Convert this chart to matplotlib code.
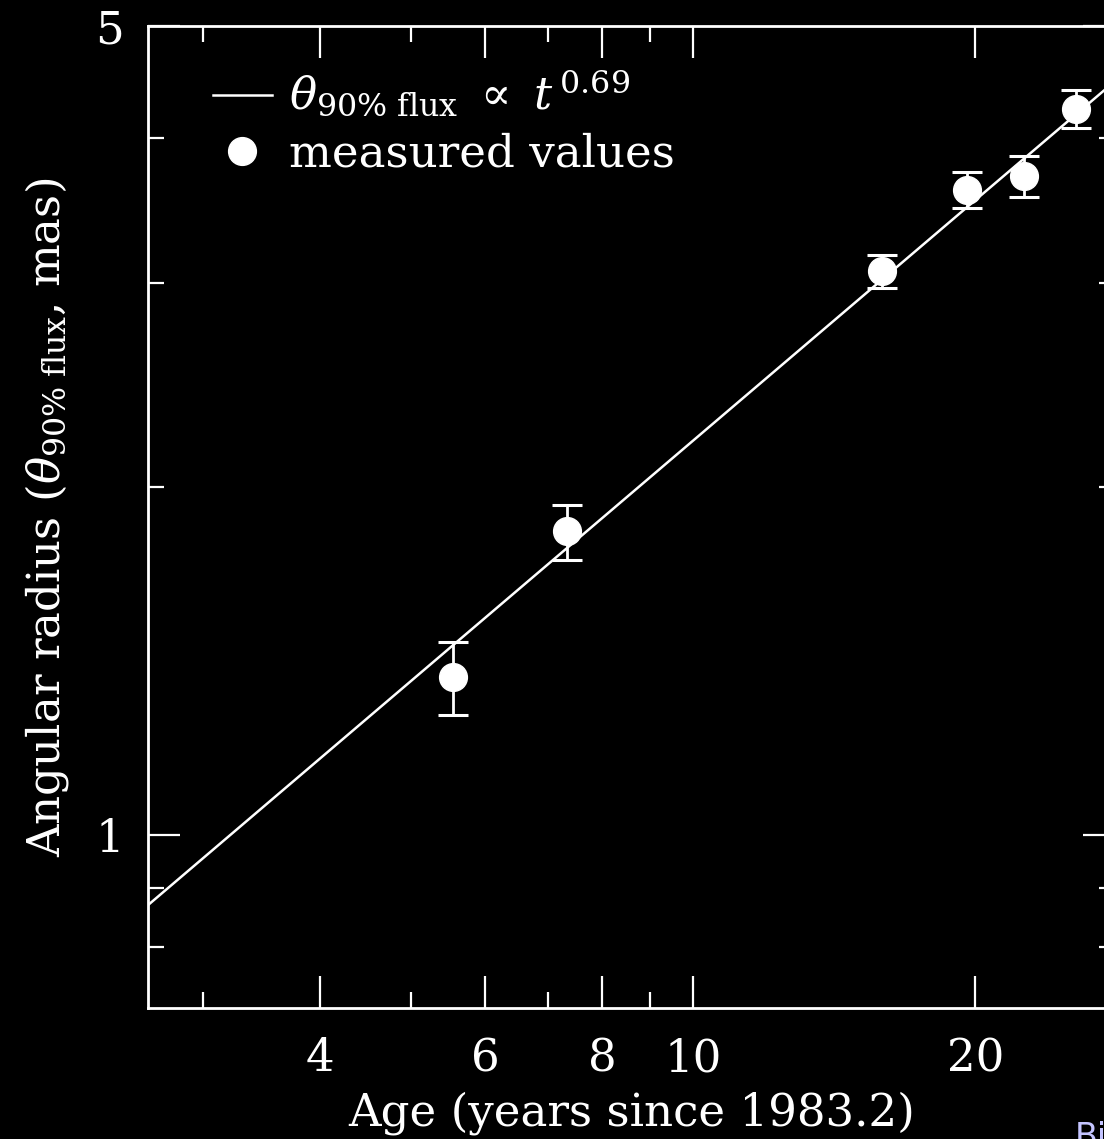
import matplotlib.pyplot as plt
import numpy as np
from matplotlib.lines import Line2D
from matplotlib.ticker import FixedLocator, NullFormatter, FixedFormatter

# VLBI epochs: age in years since 1983.2, angular radius (mas) and 1-sigma errors
age = [5.55, 7.34, 15.92, 19.62, 22.56, 25.63]
radius = [1.37, 1.83, 3.07, 3.61, 3.71, 4.24]
radius_err = [0.10, 0.10, 0.10, 0.13, 0.15, 0.16]

# power-law fit theta = A * t**m
fit_norm = 0.4476
fit_index = 0.69

x_major = [4, 6, 8, 10, 20]
x_minor = [3, 5, 7, 9]
y_major = [1, 5]
y_minor = [0.8, 0.9, 2, 3, 4]

FS = 32.5

plt.rcParams["font.family"] = "DejaVu Serif"
plt.rcParams["mathtext.fontset"] = "dejavuserif"

fig = plt.figure(figsize=(11.04, 11.39), dpi=100, facecolor="black")
ax = fig.add_axes([0.134, 0.115, 0.876, 0.862], facecolor="black")
ax.set_xscale("log")
ax.set_yscale("log")
ax.set_xlim(2.62, 28.2)
ax.set_ylim(0.709, 5.0)

t = np.geomspace(2.62, 28.2, 200)
ax.plot(t, fit_norm * t ** fit_index, color="white", lw=1.8)
ax.errorbar(age, radius, yerr=radius_err, fmt="o", color="white", ms=20,
            ecolor="white", elinewidth=2, capsize=10.5, capthick=2.2, zorder=3)

for axis, major, minor in ((ax.xaxis, x_major, x_minor), (ax.yaxis, y_major, y_minor)):
    axis.set_major_locator(FixedLocator(major))
    axis.set_major_formatter(FixedFormatter([str(v) for v in major]))
    axis.set_minor_locator(FixedLocator(minor))
    axis.set_minor_formatter(NullFormatter())

ax.tick_params(which="both", direction="in", top=True, right=True, colors="white",
               labelsize=FS)
ax.tick_params(which="major", length=23, width=1.6)
ax.tick_params(which="minor", length=11.5, width=1.6)
ax.tick_params(axis="x", which="major", pad=21)
ax.tick_params(axis="y", which="major", pad=17)
for sp in ax.spines.values():
    sp.set_color("white")
    sp.set_linewidth(2)

ax.set_xlabel("Age (years since 1983.2)", color="white", fontsize=FS, labelpad=8)
ax.set_ylabel(r"Angular radius ($\theta_{\mathrm{90\%\ flux}}$, mas)", color="white",
              fontsize=FS, labelpad=18)

handles = [
    Line2D([], [], color="white", lw=1.8),
    Line2D([], [], marker="o", ls="none", color="white", ms=20),
]
labels = [r"$\theta_{\mathrm{90\%\ flux}}\ \propto\ t^{\,0.69}$", "measured values"]
ax.legend(handles, labels, loc="upper left", bbox_to_anchor=(0.067, 0.956),
          frameon=False, fontsize=FS, handlelength=1.31, handletextpad=0.37,
          borderpad=0, borderaxespad=0, labelspacing=0.28, labelcolor="white")

fig.text(1075 / 1104, 1 - 1121 / 1139, "Bi", color="#c4c4ff", fontsize=24,
         family="DejaVu Sans", ha="left", va="top")

fig.savefig("out.png", dpi=100, facecolor="black")
